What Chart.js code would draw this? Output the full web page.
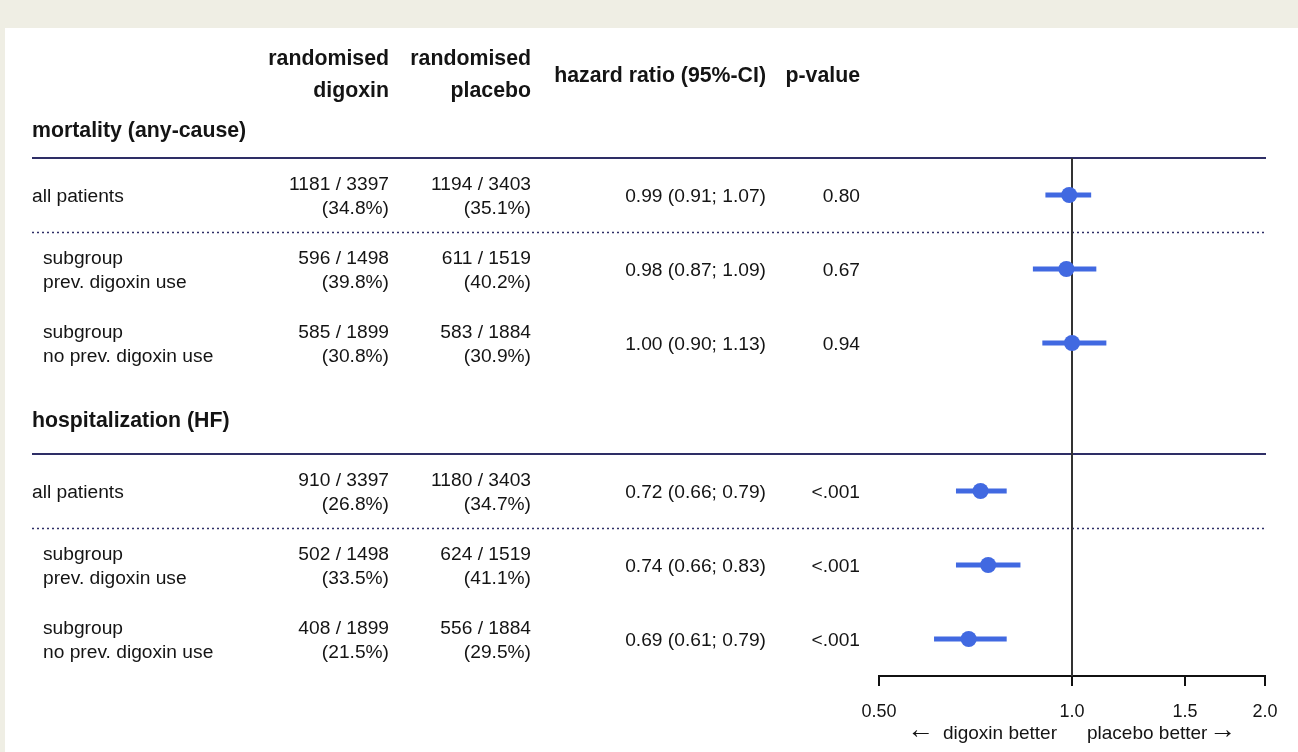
<!DOCTYPE html>
<html>
<head>
<meta charset="utf-8">
<script src="https://cdn.jsdelivr.net/npm/chart.js@4.4.1/dist/chart.umd.min.js"></script>
<style>
  html, body { margin: 0; padding: 0; background: #efeee4; }
  #panel { position: absolute; left: 5px; top: 28px; width: 1293px; height: 724px; background: #ffffff; }
  #forest { position: absolute; left: 0; top: 0; }
</style>
</head>
<body>
<div id="panel"></div>
<canvas id="forest" width="1298" height="752"></canvas>
<script>
// table data, one entry per row
const sections = ["mortality (any-cause)", "hospitalization (HF)"];
const rowLabels = [
    ["all patients"],
    ["subgroup", "prev. digoxin use"],
    ["subgroup", "no prev. digoxin use"],
    ["all patients"],
    ["subgroup", "prev. digoxin use"],
    ["subgroup", "no prev. digoxin use"],
];
const rowPos = [1, 2, 3, 5, 6, 7];
const digoxinEvents = [1181, 596, 585, 910, 502, 408];
const digoxinN = [3397, 1498, 1899, 3397, 1498, 1899];
const digoxinPct = [34.8, 39.8, 30.8, 26.8, 33.5, 21.5];
const placeboEvents = [1194, 611, 583, 1180, 624, 556];
const placeboN = [3403, 1519, 1884, 3403, 1519, 1884];
const placeboPct = [35.1, 40.2, 30.9, 34.7, 41.1, 29.5];
const hazardRatio = [0.99, 0.98, 1.0, 0.72, 0.74, 0.69];
const ciLow = [0.91, 0.87, 0.9, 0.66, 0.66, 0.61];
const ciHigh = [1.07, 1.09, 1.13, 0.79, 0.83, 0.79];
const pValues = ["0.80", "0.67", "0.94", "<.001", "<.001", "<.001"];
const tickValues = [0.5, 1.0, 1.5, 2.0];
const tickLabels = ["0.50", "1.0", "1.5", "2.0"];

const FONT = '"Liberation Sans", Arial, Helvetica, sans-serif';
const BLUE = "#4169e1";
const RULE = "#2e2e66";

const forestTable = {
    id: "forestTable",
    beforeDatasetsDraw(chart) {
        const { ctx, chartArea, scales } = chart;
        const y = scales.y;
        const x = scales.x;
        const left = 32;
        const right = chartArea.right + 1;
        ctx.save();
        ctx.strokeStyle = RULE;
        // solid rules under each section header
        ctx.lineWidth = 2;
        [0.5, 4.5].forEach((v) => {
            const py = Math.round(y.getPixelForValue(v));
            ctx.beginPath();
            ctx.moveTo(left, py);
            ctx.lineTo(right, py);
            ctx.stroke();
        });
        // dotted rules below the "all patients" rows
        ctx.lineWidth = 1.6;
        ctx.setLineDash([2, 3]);
        [1.5, 5.5].forEach((v) => {
            const py = Math.round(y.getPixelForValue(v)) + 0.5;
            ctx.beginPath();
            ctx.moveTo(left, py);
            ctx.lineTo(right, py);
            ctx.stroke();
        });
        ctx.setLineDash([]);
        // no-effect line
        const px = Math.round(x.getPixelForValue(1));
        ctx.strokeStyle = "#333333";
        ctx.lineWidth = 2;
        ctx.beginPath();
        ctx.moveTo(px, chartArea.top);
        ctx.lineTo(px, chartArea.bottom);
        ctx.stroke();
        ctx.restore();
    },
    afterDraw(chart) {
        const { ctx, scales } = chart;
        const y = scales.y;
        const x = scales.x;
        const bold = "bold 21.3px " + FONT;
        const reg = "19.2px " + FONT;
        const colDig = 389, colPla = 531, colHr = 766, colP = 860;
        ctx.save();
        ctx.fillStyle = "#141414";
        ctx.textBaseline = "alphabetic";

        const text = (s, px, py, align, font) => {
            ctx.font = font;
            ctx.textAlign = align;
            ctx.fillText(s, px, py);
        };

        // column headers
        text("randomised", colDig, 65, "right", bold);
        text("digoxin", colDig, 97, "right", bold);
        text("randomised", colPla, 65, "right", bold);
        text("placebo", colPla, 97, "right", bold);
        text("hazard ratio (95%-CI)", colHr, 82, "right", bold);
        text("p-value", colP, 82, "right", bold);

        // section headers
        text(sections[0], 32, y.getPixelForValue(0.12) + 7.5, "left", bold);
        text(sections[1], 32, y.getPixelForValue(4.03) + 7.5, "left", bold);

        rowPos.forEach((v, i) => {
            const py = y.getPixelForValue(v);
            const lab = rowLabels[i];
            if (lab.length === 1) {
                text(lab[0], 32, py + 7, "left", reg);
            } else {
                text(lab[0], 43, py - 5, "left", reg);
                text(lab[1], 43, py + 18.5, "left", reg);
            }
            text(digoxinEvents[i] + " / " + digoxinN[i], colDig, py - 5, "right", reg);
            text("(" + digoxinPct[i].toFixed(1) + "%)", colDig, py + 18.5, "right", reg);
            text(placeboEvents[i] + " / " + placeboN[i], colPla, py - 5, "right", reg);
            text("(" + placeboPct[i].toFixed(1) + "%)", colPla, py + 18.5, "right", reg);
            text(hazardRatio[i].toFixed(2) + " (" + ciLow[i].toFixed(2) + "; " + ciHigh[i].toFixed(2) + ")",
                colHr, py + 7, "right", reg);
            text(pValues[i], colP, py + 7, "right", reg);
        });

        // direction labels under the axis
        const one = x.getPixelForValue(1);
        const arrowFont = "27px " + FONT;
        text("digoxin better", one - 15, 739, "right", "19px " + FONT);
        text("\u2190", one - 138, 738, "right", arrowFont);
        text("placebo better", one + 15, 739, "left", "19px " + FONT);
        text("\u2192", one + 137, 738, "left", arrowFont);
        ctx.restore();
    },
};

new Chart(document.getElementById("forest"), {
    type: "bar",
    data: {
        datasets: [
            {
                type: "scatter",
                data: rowPos.map((v, i) => ({ x: hazardRatio[i], y: v })),
                backgroundColor: BLUE,
                borderWidth: 0,
                pointRadius: 8,
                pointHoverRadius: 8,
                order: 0,
            },
            {
                type: "bar",
                data: rowPos.map((v, i) => ({ x: [ciLow[i], ciHigh[i]], y: v })),
                backgroundColor: BLUE,
                barThickness: 4.5,
                order: 1,
            },
        ],
    },
    options: {
        indexAxis: "y",
        responsive: false,
        animation: false,
        events: [],
        layout: { padding: { left: 879, right: 33, top: 158, bottom: 0 } },
        plugins: { legend: { display: false }, tooltip: { enabled: false } },
        scales: {
            y: { type: "linear", reverse: true, offset: false, min: 0.5, max: 7.5, display: false },
            x: {
                type: "logarithmic",
                min: 0.5,
                max: 2.0,
                afterBuildTicks: (scale) => {
                    scale.ticks = tickValues.map((v) => ({ value: v }));
                },
                afterFit: (scale) => {
                    scale.height = 76;
                },
                grid: { drawOnChartArea: false, color: "#111111", lineWidth: 2, tickLength: 10 },
                border: { color: "#111111", width: 2 },
                ticks: {
                    autoSkip: false,
                    maxRotation: 0,
                    padding: 15,
                    color: "#141414",
                    font: { family: FONT, size: 18 },
                    callback: (val, i) => tickLabels[i],
                },
            },
        },
    },
    plugins: [forestTable],
});
</script>
</body>
</html>
